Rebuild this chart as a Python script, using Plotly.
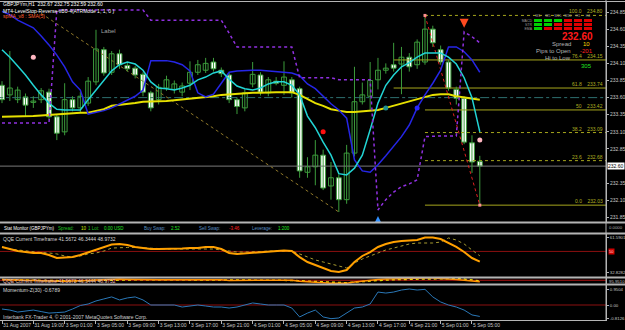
import plotly.graph_objects as go

# ---------------- data ----------------
bar_index = list(range(62))
time_ticks = [0, 4, 8, 12, 16, 20, 24, 28, 32, 36, 40, 44, 48, 52, 56, 60]
time_labels = ["31 Aug 2007", "31 Aug 19:00", "3 Sep 01:00", "3 Sep 05:00", "3 Sep 09:00",
               "3 Sep 13:00", "3 Sep 17:00", "3 Sep 21:00", "4 Sep 01:00", "4 Sep 05:00",
               "4 Sep 09:00", "4 Sep 13:00", "4 Sep 17:00", "4 Sep 21:00", "5 Sep 01:00",
               "5 Sep 05:00"]

opens = [233.78, 233.64, 233.57, 233.61, 233.53, 233.57, 233.68, 233.32, 233.10, 233.57,
         233.45, 233.52, 233.83, 234.30, 233.97, 234.24, 234.07, 234.03, 233.94, 233.67,
         233.57, 233.74, 233.72, 233.68, 233.81, 233.97, 234.00, 234.12, 234.00, 233.93,
         233.57, 233.45, 233.80, 233.93, 233.67, 233.84, 233.78, 233.86, 233.73, 232.51,
         232.59, 232.76, 232.31, 232.43, 232.11, 232.79, 233.54, 233.62, 233.86, 234.00,
         234.08, 234.09, 234.19, 234.08, 234.12, 234.60, 234.30, 234.12, 233.72, 233.59,
         232.94, 232.67]
highs = [233.84, 234.28, 233.76, 233.66, 233.62, 233.74, 233.73, 233.36, 233.81, 233.62,
         233.68, 233.90, 234.59, 234.34, 234.28, 234.30, 234.12, 234.06, 233.97, 233.70,
         233.80, 233.92, 233.85, 233.82, 234.13, 234.15, 234.18, 234.18, 234.04, 233.97,
         233.60, 233.72, 234.12, 233.97, 233.90, 233.90, 234.13, 233.90, 233.76, 232.73,
         232.98, 232.84, 232.66, 232.48, 232.91, 234.05, 233.82, 234.12, 234.18, 234.10,
         234.40, 234.34, 234.25, 234.45, 234.80, 234.65, 234.36, 234.15, 233.76, 233.62,
         233.05, 232.75]
lows = [233.52, 233.55, 233.52, 233.32, 233.45, 233.52, 233.28, 232.98, 233.05, 233.40,
        233.38, 233.48, 233.78, 233.92, 233.93, 234.02, 233.98, 233.88, 233.62, 233.40,
        233.50, 233.70, 233.66, 233.62, 233.71, 233.93, 233.96, 233.98, 233.90, 233.52,
        233.36, 233.40, 233.75, 233.63, 233.62, 233.78, 233.64, 233.60, 232.43, 232.43,
        232.32, 232.25, 232.11, 231.93, 232.05, 232.74, 233.50, 233.42, 233.72, 233.95,
        233.98, 233.65, 233.98, 234.02, 234.08, 234.34, 234.08, 233.70, 233.50, 232.92,
        232.50, 232.03]
closes = [233.57, 233.74, 233.71, 233.49, 233.55, 233.70, 233.32, 233.08, 233.57, 233.45,
          233.62, 233.84, 234.31, 233.96, 234.24, 234.08, 234.02, 233.93, 233.68, 233.45,
          233.75, 233.86, 233.80, 233.77, 233.97, 234.08, 234.10, 234.02, 233.95, 233.57,
          233.47, 233.67, 233.94, 233.68, 233.86, 233.81, 233.90, 233.67, 232.53, 232.59,
          232.76, 232.28, 232.43, 232.11, 232.79, 233.54, 233.64, 233.85, 234.00, 234.03,
          234.03, 234.19, 234.05, 234.41, 234.60, 234.40, 234.12, 233.74, 233.59, 232.95,
          232.66, 232.60]

ma_slow = [233.32, 233.32, 233.32, 233.33, 233.33, 233.34, 233.35, 233.35, 233.36, 233.37,
           233.38, 233.38, 233.41, 233.43, 233.48, 233.49, 233.51, 233.52, 233.54, 233.54,
           233.55, 233.55, 233.56, 233.57, 233.58, 233.60, 233.61, 233.62, 233.64, 233.65,
           233.65, 233.66, 233.67, 233.67, 233.68, 233.68, 233.68, 233.68, 233.64, 233.58,
           233.52, 233.48, 233.43, 233.41, 233.39, 233.39, 233.40, 233.41, 233.42, 233.45,
           233.48, 233.51, 233.54, 233.58, 233.61, 233.64, 233.65, 233.65, 233.62, 233.60,
           233.58, 233.57]
ma_fast = [234.30, 234.19, 234.06, 233.93, 233.78, 233.64, 233.52, 233.43, 233.42, 233.42,
           233.42, 233.57, 233.71, 233.86, 233.99, 234.08, 234.12, 234.09, 234.00, 233.83,
           233.74, 233.73, 233.71, 233.74, 233.78, 233.86, 233.90, 233.96, 233.99, 233.87,
           233.77, 233.73, 233.71, 233.74, 233.80, 233.83, 233.83, 233.78, 233.64, 233.33,
           233.16, 232.95, 232.76, 232.49, 232.47, 232.57, 232.76, 233.13, 233.52, 233.78,
           233.93, 234.05, 234.11, 234.19, 234.25, 234.25, 234.25, 234.19, 234.09, 233.89,
           233.60, 233.10]
ma_mid = [234.86, 234.81, 234.73, 234.68, 234.62, 234.50, 234.37, 234.22, 234.05, 233.83,
          233.71, 233.36, 233.38, 233.41, 233.45, 233.51, 233.57, 233.62, 233.71, 234.14,
          234.14, 234.14, 234.12, 234.08, 233.99, 233.67, 233.61, 233.65, 233.81, 233.97,
          233.99, 234.00, 234.00, 234.00, 233.99, 233.97, 233.97, 233.96, 233.92, 233.80,
          233.73, 233.62, 233.51, 233.42, 233.30, 232.69, 232.53, 232.51, 232.62, 232.75,
          232.89, 233.03, 233.20, 233.45, 233.64, 233.81, 234.00, 234.34, 234.34, 234.27,
          234.15, 233.97]
stop_level = [233.23, 233.23, 233.23, 233.23, 233.23, 233.23, 233.23, 234.88, 234.88, 234.88,
              234.88, 234.88, 234.88, 234.88, 234.88, 234.88, 234.88, 234.88, 234.88, 234.73,
              234.73, 234.73, 234.73, 234.73, 234.73, 234.73, 234.73, 234.73, 234.73, 234.54,
              234.34, 234.34, 234.34, 234.34, 234.34, 234.34, 234.34, 234.34, 233.89, 233.89,
              233.89, 233.89, 233.89, 233.86, 233.86, 233.86, 233.86, 233.86, 231.96, 232.11,
              232.22, 232.30, 232.34, 232.40, 233.03, 233.04, 233.04, 233.04, 233.04, 234.56,
              234.49, 234.40]

fib_ratios = ["100.0", "76.4", "61.8", "50", "38.2", "23.6", "0.0"]
fib_prices = [234.80, 234.15, 233.74, 233.42, 233.09, 232.68, 232.03]
fib_start = [54, 50, 50, 54, 54, 54, 54]
fib_dash = ["dot", "solid", "solid", "solid", "dot", "dot", "solid"]
fib_anchor_bars = [54, 61]
fib_anchor_prices = [234.80, 232.03]
trend_bars = [5, 43]
trend_prices = [234.83, 231.93]
level_line = 233.60
current_price = 232.60
price_ticks = [234.85, 234.60, 234.35, 234.10, 233.85, 233.60, 233.35, 233.10, 232.85,
               232.35, 232.10, 231.85]

dot_bars = [4, 41, 61, 49, 53]
dot_prices = [234.19, 233.10, 232.98, 233.45, 233.45]
dot_colors = ["#ffb6c1", "#ff1010", "#ffb6c1", "#1f8f8f", "#2828ff"]
arrow_bars = [48, 59]
arrow_prices = [231.87, 234.62]
arrow_symbols = ["arrow-up", "arrow-down"]
arrow_colors = ["#3090ff", "#ff4a20"]

tf_names = ["M1", "M5", "M15", "M30", "H1", "H4"]
sig_rows = ["MACD", "STR", "EMA"]
signals = [[1, 1, 1, 0, 0, 0],
           [1, 1, 0, 0, 0, 0],
           [1, 0, 0, 0, 0, 0]]

qqe_fast = [53.7, 52.0, 50.3, 49.5, 48.7, 48.7, 47.0, 44.5, 44.9, 45.3,
            47.0, 49.1, 51.2, 53.7, 55.8, 56.2, 55.3, 53.7, 52.8, 52.0,
            52.0, 52.0, 52.0, 52.4, 52.8, 52.8, 53.7, 53.7, 52.0, 48.7,
            47.9, 48.3, 48.7, 49.5, 49.9, 50.3, 50.8, 50.3, 45.3, 41.2,
            38.7, 36.2, 33.7, 32.83, 34.5, 41.2, 46.2, 49.5, 53.7, 56.2,
            57.8, 58.7, 59.1, 59.5, 61.59, 61.5, 60.3, 57.0, 53.7, 49.5,
            44.5, 41.57]
qqe_slow = [53.7, 52.0, 51.2, 50.3, 49.5, 49.1, 48.7, 47.9, 46.2, 45.3,
            46.2, 47.9, 48.7, 50.3, 52.8, 53.3, 53.3, 53.3, 52.8, 52.8,
            52.4, 52.0, 52.0, 52.0, 52.0, 52.0, 52.0, 52.0, 51.2, 50.3,
            49.5, 49.5, 49.5, 49.9, 50.3, 50.3, 50.8, 50.3, 47.9, 45.3,
            42.9, 41.2, 39.5, 37.9, 36.2, 40.4, 43.7, 46.2, 48.7, 51.2,
            52.8, 54.5, 56.2, 57.0, 57.0, 57.0, 57.8, 61.2, 59.5, 56.2,
            51.2, 46.34]
qqe_level = 50
qqe_ticks = [61.5901, 32.8282]
momentum = [-0.24, -0.30, -0.42, -0.36, -0.30, -0.39, -0.48, -0.45, -0.42, -0.24,
            -0.03, 0.06, 0.24, 0.36, 0.48, 0.30, 0.42, 0.48, 0.30, 0.00,
            0.00, 0.00, 0.00, -0.12, -0.06, 0.00, -0.06, -0.12, -0.12, -0.18,
            -0.12, 0.00, 0.12, 0.06, 0.00, 0.00, 0.00, -0.18, -0.71, -0.48,
            -0.30, -0.71, -0.8126, -0.77, -0.48, -0.18, -0.12, 0.06, 0.77, 0.71,
            0.77, 0.89, 0.9504, 0.89, 0.93, 0.48, 0.18, 0.00, -0.12, -0.30,
            -0.59, -0.6789]
mom_ticks = [0.9504, 0.0, -0.8126]
mom_tick_text = ["0.9504", "0.00", "-0.8126"]

# ---------------- layout helpers ----------------
W, H = 625, 330
MR, MB = 19, 10
PW, PH = W - MR, H - MB
FONT = "Liberation Sans, Arial, sans-serif"
GREEN = "#3c9c3c"
GRID = "#b4b4b4"


def py(v):
    return 1 - v / PH


def px(v):
    return v / PW


X_END = 80
fig = go.Figure()

# horizontal objects behind candles
fig.add_trace(go.Scatter(x=[-1, X_END], y=[level_line, level_line], mode="lines",
                         line=dict(color="#2e7070", width=1, dash="dashdot"), hoverinfo="skip"))
fig.add_trace(go.Scatter(x=[-1, X_END], y=[current_price, current_price], mode="lines",
                         line=dict(color="#7a7a7a", width=1), hoverinfo="skip"))
for r, p, s, d in zip(fib_ratios, fib_prices, fib_start, fib_dash):
    fig.add_trace(go.Scatter(x=[s, X_END], y=[p, p], mode="lines",
                             line=dict(color="#a6a61c", width=1, dash=d), hoverinfo="skip"))
fig.add_trace(go.Scatter(x=trend_bars, y=trend_prices, mode="lines",
                         line=dict(color="#917a2c", width=1, dash="dot"), hoverinfo="skip"))

# candles
wx, wy = [], []
for i, h, l in zip(bar_index, highs, lows):
    wx += [i, i, None]
    wy += [l, h, None]
fig.add_trace(go.Scatter(x=wx, y=wy, mode="lines", line=dict(color=GREEN, width=1),
                         hoverinfo="skip"))
body_base = [min(o, c) for o, c in zip(opens, closes)]
body_h = [max(abs(c - o), 0.012) for o, c in zip(opens, closes)]
body_fill = ["#ffffff" if c < o else "#000000" for o, c in zip(opens, closes)]
fig.add_trace(go.Bar(x=bar_index, y=body_h, base=body_base, width=0.62,
                     marker=dict(color=body_fill, line=dict(color=GREEN, width=1)),
                     hoverinfo="skip"))

# fib anchor line
fig.add_trace(go.Scatter(x=fib_anchor_bars, y=fib_anchor_prices, mode="lines+markers",
                         line=dict(color="#e02020", width=1, dash="dot"),
                         marker=dict(symbol="square", size=3, color="#ff9090"),
                         hoverinfo="skip"))

# indicator lines
fig.add_trace(go.Scatter(x=bar_index, y=ma_slow, mode="lines",
                         line=dict(color="#e6e000", width=2), hoverinfo="skip"))
fig.add_trace(go.Scatter(x=bar_index, y=ma_mid, mode="lines",
                         line=dict(color="#2626e6", width=1.5), hoverinfo="skip"))
fig.add_trace(go.Scatter(x=bar_index, y=ma_fast, mode="lines",
                         line=dict(color="#22d4d4", width=1.5), hoverinfo="skip"))
fig.add_trace(go.Scatter(x=bar_index, y=stop_level, mode="lines",
                         line=dict(color="#9030e0", width=1.5, dash="dot"), hoverinfo="skip"))
fig.add_trace(go.Scatter(x=dot_bars, y=dot_prices, mode="markers",
                         marker=dict(size=5, color=dot_colors), hoverinfo="skip"))
fig.add_trace(go.Scatter(x=arrow_bars, y=arrow_prices, mode="markers",
                         marker=dict(size=9, color=arrow_colors, symbol=arrow_symbols),
                         hoverinfo="skip"))

# QQE panel
fig.add_trace(go.Scatter(x=[-1, X_END], y=[qqe_level, qqe_level], yaxis="y2", mode="lines",
                         line=dict(color="#8c1010", width=1), hoverinfo="skip"))
fig.add_trace(go.Scatter(x=bar_index, y=qqe_slow, yaxis="y2", mode="lines",
                         line=dict(color="#a89c30", width=1, dash="dot"), hoverinfo="skip"))
fig.add_trace(go.Scatter(x=bar_index, y=qqe_fast, yaxis="y2", mode="lines",
                         line=dict(color="#ffa000", width=2), hoverinfo="skip"))

# thin QQE panel
fig.add_trace(go.Scatter(x=[-1, X_END], y=[qqe_level, qqe_level], yaxis="y3", mode="lines",
                         line=dict(color="#b01010", width=1), hoverinfo="skip"))
fig.add_trace(go.Scatter(x=bar_index, y=qqe_slow, yaxis="y3", mode="lines",
                         line=dict(color="#e8e000", width=1.5, dash="dot"), hoverinfo="skip"))
fig.add_trace(go.Scatter(x=bar_index, y=qqe_fast, yaxis="y3", mode="lines",
                         line=dict(color="#ff9000", width=1.5), hoverinfo="skip"))

# Momentum panel
fig.add_trace(go.Scatter(x=[-1, X_END], y=[0, 0], yaxis="y4", mode="lines",
                         line=dict(color="#8c1010", width=1), hoverinfo="skip"))
fig.add_trace(go.Scatter(x=bar_index, y=momentum, yaxis="y4", mode="lines",
                         line=dict(color="#2a78b8", width=1), hoverinfo="skip"))

# signal box
fig.add_trace(go.Heatmap(z=signals, x=tf_names, y=sig_rows, xaxis="x2", yaxis="y5",
                         colorscale=[[0, "#e00000"], [1, "#00d000"]], zmin=0, zmax=1,
                         showscale=False, xgap=2, ygap=1, hoverinfo="skip"))

tickfont = dict(family=FONT, size=5, color="#c8c8c8")
small_tickfont = dict(family=FONT, size=4.3, color="#c8c8c8")
axis_common = dict(showgrid=False, zeroline=False, showline=True, linecolor=GRID,
                   ticks="outside", ticklen=2, tickcolor=GRID,
                   side="right", anchor="x", fixedrange=True, automargin=False)

fig.update_layout(
    width=W, height=H, margin=dict(l=0, r=MR, t=0, b=MB, autoexpand=False),
    paper_bgcolor="#000000", plot_bgcolor="#000000", showlegend=False,
    barmode="overlay", hovermode=False,
    xaxis=dict(domain=[0, 1], range=[-0.255, 77.11], anchor="y4", showgrid=False,
               zeroline=False, showline=True, linecolor=GRID, ticks="outside", ticklen=3,
               tickcolor=GRID, tickvals=time_ticks, ticktext=time_labels, tickfont=tickfont,
               ticklabelposition="outside right", tickangle=0, automargin=False,
               fixedrange=True),
    yaxis=dict(domain=[py(222), py(2)], range=[231.784, 234.996], tickvals=price_ticks,
               tickformat=".2f", tickfont=tickfont, **axis_common),
    yaxis2=dict(domain=[py(277), py(234)], range=[28.7, 64.5], tickvals=qqe_ticks,
                ticktext=["%.4f" % v for v in qqe_ticks], tickfont=small_tickfont,
                **axis_common),
    yaxis3=dict(domain=[py(284), py(278)], range=[30, 62], showticklabels=False,
                showgrid=False, zeroline=False, showline=True, linecolor=GRID,
                side="right", anchor="x", fixedrange=True, automargin=False),
    yaxis4=dict(domain=[0, py(285)], range=[-0.891, 1.188], tickvals=mom_ticks,
                ticktext=mom_tick_text, tickfont=small_tickfont, **axis_common),
    xaxis2=dict(domain=[px(533), px(593)], anchor="y5", side="top", showgrid=False,
                zeroline=False, showline=False, ticks="", automargin=False,
                tickfont=dict(family=FONT, size=3.5, color="#9a9a9a"), fixedrange=True),
    yaxis5=dict(domain=[py(31), py(19)], anchor="x2", autorange="reversed", showgrid=False,
                zeroline=False, showline=False, ticks="", automargin=False,
                tickfont=dict(family=FONT, size=3.5, color="#9a9a9a"), fixedrange=True),
)

shapes = []
for ypix, w in [(1.5, 1), (222.5, 2), (233.5, 2), (277.5, 2), (284.5, 2)]:
    shapes.append(dict(type="line", xref="paper", yref="paper", x0=0, x1=W / PW,
                       y0=py(ypix), y1=py(ypix), line=dict(color=GRID, width=w)))
shapes.append(dict(type="line", xref="paper", yref="paper", x0=1, x1=1, y0=0, y1=1,
                   line=dict(color=GRID, width=1)))
fig.update_layout(shapes=shapes)

ann = []


def text(t, x, y, color, size=5, xanchor="left", yref="paper", bg=None, bold=False):
    d = dict(text=("<b>%s</b>" % t) if bold else t, x=px(x), y=py(y) if yref == "paper" else y,
             xref="paper", yref=yref, xanchor=xanchor, yanchor="middle", showarrow=False,
             font=dict(family=FONT, size=size, color=color), borderpad=0)
    if bg:
        d["bgcolor"] = bg
    ann.append(d)


# main window texts
text("GBPJPYm,H1  232.67 232.75 232.59 232.60", 2, 4, "#ffffff")
text("MT4-LevelStop-Reverse-vB0-4(ATRMode 1, 1, 0 )", 2, 10.5, "#ffffff")
text("spMA_v8 : SMA(5)", 2, 16.5, "#ff6030")
text("Label", 100, 30.5, "#a0a0a0", size=6)
text("232.60", 577, 36, "#ff1a1a", size=10, xanchor="center", bold=True)
text("Spread", 572, 43.5, "#b4b4b4", size=6, xanchor="right")
text("10", 582, 43.5, "#ffd700", size=6)
text("Pips to Open", 572, 51, "#b4b4b4", size=6, xanchor="right")
text("-201", 579, 51, "#ff2020", size=6)
text("Hi to Low", 572, 58, "#b4b4b4", size=6, xanchor="right")
text("305", 580, 66.5, "#20e020", size=6)
for r, p in zip(fib_ratios, fib_prices):
    ann.append(dict(text="%s    %.2f" % (r, p), x=px(604), y=p, xref="paper", yref="y",
                    xanchor="right", yanchor="bottom", showarrow=False, borderpad=0,
                    font=dict(family=FONT, size=5, color="#b0b020")))
ann.append(dict(text="%.2f" % current_price, x=px(607), y=current_price, xref="paper",
                yref="y", xanchor="left", yanchor="middle", showarrow=False, borderpad=0,
                bgcolor="#ffffff", font=dict(family=FONT, size=5, color="#000000")))

# stat monitor
for t, x, c in [("Stat Monitor (GBPJPYm)", 3, "#ffffff"), ("Spread:", 57, "#20c020"),
                ("10", 80, "#c8e800"), ("1 Lot:", 87, "#20c020"), ("0.00 USD", 103, "#20e020"),
                ("Buy Swap:", 143, "#5b8fc0"), ("2.52", 170, "#20e020"),
                ("Sell Swap:", 198, "#5b8fc0"), ("-3.46", 228, "#ff2020"),
                ("Leverage:", 251, "#5b8fc0"), ("1:200", 277, "#20e020")]:
    text(t, x, 228, c, size=4.5)
text("0.0000", 608, 227.5, "#b0b0b0", size=4.3)

# sub windows
text("QQE Current Timeframe 41.5672 46.3444 48.9732", 2, 238.5, "#d8d8d8")
ann.append(dict(text="50", x=px(608), y=qqe_level, xref="paper", yref="y2", xanchor="left",
                yanchor="middle", showarrow=False, borderpad=0, bgcolor="#d00000",
                font=dict(family=FONT, size=4, color="#ffd0d0")))
text("QQE Current Timeframe 41.5672 46.3444 48.9732", 2, 281, "#e0b8b8")
text("95.9510", 608, 281, "#c0c0c0", size=4.3)
text("Momentum-Z(30) -0.6789", 2, 290, "#d8d8d8")
text("Interbank FX-Trader 4, © 2001-2007 MetaQuotes Software Corp.", 2, 316.5, "#d0d0d0")

fig.update_layout(annotations=ann)
fig.write_html("out.html")
